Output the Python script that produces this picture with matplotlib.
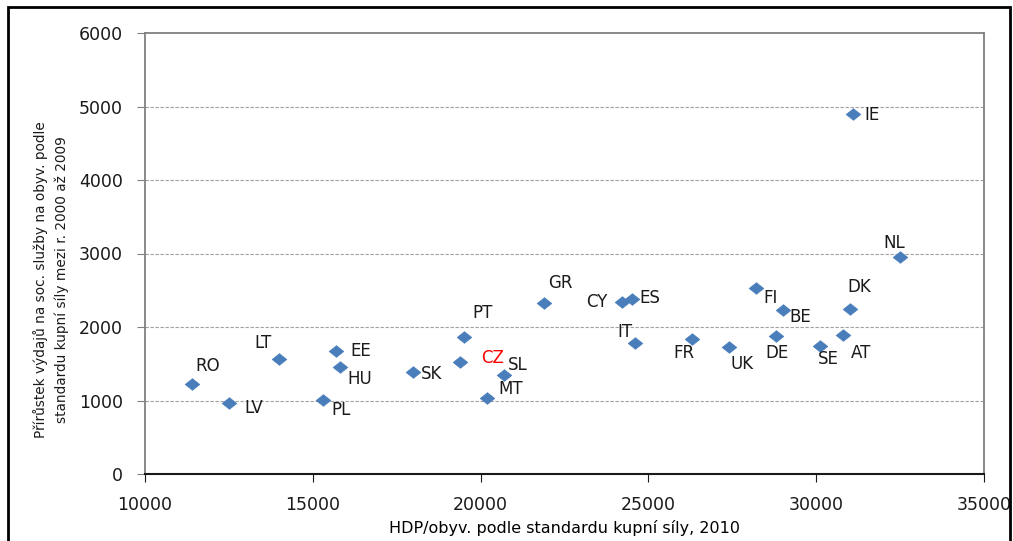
import matplotlib
matplotlib.use("Agg")
import matplotlib.pyplot as plt
from matplotlib.patches import Rectangle
from matplotlib.path import Path

countries = ["RO", "LV", "LT", "EE", "HU", "PL", "SK", "PT", "CZ", "SL", "MT",
             "GR", "CY", "ES", "IT", "FR", "UK", "FI", "BE", "DE", "SE", "AT",
             "DK", "NL", "IE"]
hdp = [11400, 12500, 14000, 15700, 15800, 15300, 18000, 19500, 19400, 20700, 20200,
       21900, 24200, 24500, 24600, 26300, 27400, 28200, 29000, 28800, 30100, 30800,
       31000, 32500, 31100]
growth = [1220, 970, 1560, 1680, 1460, 1010, 1390, 1860, 1520, 1350, 1040,
          2330, 2340, 2380, 1780, 1830, 1730, 2530, 2230, 1880, 1740, 1890,
          2250, 2950, 4900]
# label offsets in pixels (dx, dy) with dy positive downward as in the image
offsets = {"RO": (16, -18), "LV": (25, 5), "LT": (-16, -16), "EE": (24, 0),
           "HU": (20, 12), "PL": (18, 10), "SK": (18, 2), "PT": (19, -24),
           "CZ": (32, -4), "SL": (14, -10), "MT": (23, -9), "GR": (16, -20),
           "CY": (-25, 0), "ES": (18, -1), "IT": (-10, -11), "FR": (-8, 14),
           "UK": (13, 17), "FI": (15, 10), "BE": (18, 7), "DE": (1, 17),
           "SE": (9, 13), "AT": (18, 18), "DK": (9, -22), "NL": (-6, -14),
           "IE": (19, 1)}

xticks = [10000, 15000, 20000, 25000, 30000, 35000]
yticks = [0, 1000, 2000, 3000, 4000, 5000, 6000]
xlabel = "HDP/obyv. podle standardu kupní síly, 2010"
ylabel = "Přírůstek výdajů na soc. služby na obyv. podle\nstandardu kupní síly mezi r. 2000 až 2009"

diamond = Path([(-1, 0), (0, 0.8), (1, 0), (0, -0.8), (-1, 0)],
               [Path.MOVETO, Path.LINETO, Path.LINETO, Path.LINETO, Path.CLOSEPOLY])

fig = plt.figure(figsize=(10.13, 5.41), dpi=100)
ax = fig.add_axes([145/1013, 1-474/541, (984-145)/1013, (474-33)/541])

ax.scatter(hdp, growth, marker=diamond, s=110, color="#4A7EBB", edgecolors="#4A7EBB",
           linewidths=0.5, zorder=3)

for c, x, y in zip(countries, hdp, growth):
    dx, dy = offsets[c]
    ax.annotate(c, (x, y), xytext=(dx, -dy), textcoords="offset pixels",
                ha="center", va="center", fontsize=12,
                color="red" if c == "CZ" else "#1a1a1a", zorder=4)

ax.set_xlim(10000, 35000)
ax.set_ylim(0, 6000)
ax.set_xticks(xticks)
ax.set_yticks(yticks)
ax.tick_params(axis="both", labelsize=12.5, colors="#1a1a1a", direction="out", length=6)
ax.tick_params(axis="y", color="#808080", pad=10)
ax.tick_params(axis="x", color="#1a1a1a", pad=10)

for y in yticks[1:-1]:
    ax.axhline(y, color="#a0a0a0", linewidth=0.8, linestyle=(0, (3, 1.5)), zorder=1)

for side in ["top", "right", "left"]:
    ax.spines[side].set_color("#808080")
    ax.spines[side].set_linewidth(1.3)
ax.spines["bottom"].set_color("#1a1a1a")
ax.spines["bottom"].set_linewidth(1.5)

narrow = ["Liberation Sans Narrow", "DejaVu Sans"]
ax.set_xlabel(xlabel, fontsize=11.5, family=narrow, labelpad=4)
fig.text(51/1013, 1 - 280/541, ylabel, rotation=90, ha="center", va="center",
         fontsize=9.8, family=narrow, linespacing=1.6, multialignment="center",
         color="#1a1a1a")

fig.patches.append(Rectangle((8/1013, -0.05), (1010-8)/1013, 1 - 7/541 + 0.05,
                             transform=fig.transFigure, fill=False,
                             edgecolor="black", linewidth=2))

fig.savefig("out.png", dpi=100)
